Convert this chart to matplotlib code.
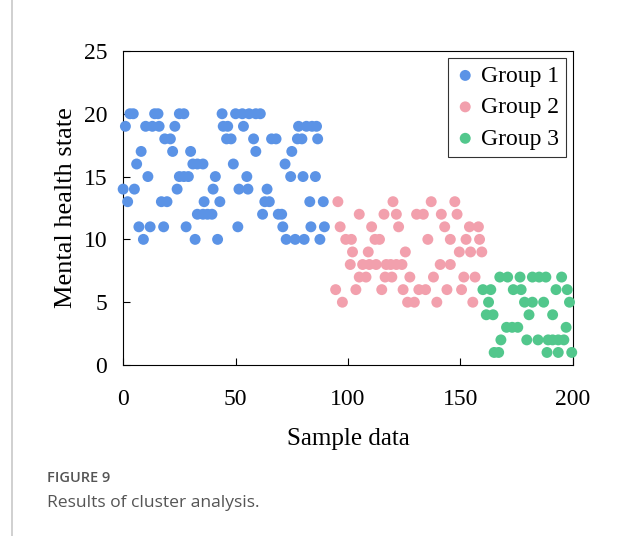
import matplotlib
matplotlib.use("Agg")
import matplotlib.pyplot as plt
from matplotlib.lines import Line2D

# cluster 1 -- (sample index, mental health score)
g1_x = [3, 4.5, 14, 15.5, 25, 27, 44, 50, 53, 56, 59, 61,
        1, 10, 13, 16, 23, 44.5, 46.5, 53.5, 78, 81.5, 84, 86,
        18.5, 21, 46, 48, 58, 66, 68, 77.5, 79.5, 86.5,
        8, 22, 30, 59, 75,
        6, 31, 33, 35.5, 49, 72,
        11, 25, 27, 29, 41, 55, 74.5, 80, 85.5,
        0, 5, 24, 40, 51.5, 55.5, 64,
        2, 17, 19.5, 36, 43, 63, 65, 83, 89,
        33, 35.5, 37.5, 39.5, 62, 69, 70.5,
        7, 12, 18, 28, 51, 71, 83.5, 89.5,
        9, 32, 42, 72.5, 76.5, 80.5, 87.5]
g1_y = [20] * 12 + [19] * 12 + [18] * 10 + [17] * 5 + [16] * 6 + [15] * 9 + \
       [14] * 7 + [13] * 9 + [12] * 7 + [11] * 8 + [10] * 7

g2_x = [95.5, 120, 137, 147.5,
        105, 116, 121.5, 130.5, 133.5, 141.5, 148.5,
        96.5, 110.5, 122.5, 143, 154, 158,
        99, 101.5, 112, 114, 135.5, 145.5, 152.5, 158.5,
        102, 109, 125.5, 149.5, 154.5, 159.5,
        101, 106.5, 109.5, 112.5, 117, 119, 121.5, 124, 141, 145.5,
        105, 108, 116.5, 119.5, 127.5, 138, 151.5, 156.5,
        94.5, 103.5, 115, 124.5, 131.5, 134.5, 144, 150.5,
        97.5, 126.5, 129.5, 139.5, 155.5]
g2_y = [13] * 4 + [12] * 7 + [11] * 6 + [10] * 8 + [9] * 6 + [8] * 10 + \
       [7] * 8 + [6] * 8 + [5] * 5

g3_x = [167.5, 171, 176.5, 182, 185, 188, 195,
        160, 163.5, 173.5, 177, 192.5, 197.5,
        162.5, 178.5, 182, 187, 198.5,
        161.5, 164.5, 180.5, 191,
        170.5, 173, 175.5, 197,
        168, 179.5, 184.5, 189, 191, 193.5, 196,
        165, 167, 188.5, 193.5, 199.5]
g3_y = [7] * 7 + [6] * 6 + [5] * 5 + [4] * 4 + [3] * 4 + [2] * 7 + [1] * 5

labels = ["Group 1", "Group 2", "Group 3"]
colors = ["#5b93e6", "#f2a0ad", "#52c78c"]

plt.rcParams["font.family"] = "Liberation Serif"
fig = plt.figure(figsize=(6.22, 5.36), dpi=100)
ax = fig.add_axes([0.198, 0.319, 0.723, 0.586])

for xs, ys, lab, c in zip([g1_x, g2_x, g3_x], [g1_y, g2_y, g3_y], labels, colors):
    ax.scatter(xs, ys, s=62, color=c, label=lab, edgecolors="none", clip_on=False, zorder=3)

ax.set_xlim(0, 200)
ax.set_ylim(0, 25)
ax.set_xticks([0, 50, 100, 150, 200])
ax.set_yticks([0, 5, 10, 15, 20, 25])
ax.tick_params(direction="in", labelsize=17, length=5)
ax.tick_params(axis="x", pad=17)
ax.tick_params(axis="y", pad=11.5)
ax.set_xlabel("Sample data", fontsize=18, labelpad=13)
ax.set_ylabel("Mental health state", fontsize=19, labelpad=5)

leg = ax.legend(loc="upper right", fontsize=17, frameon=True, fancybox=False,
                edgecolor="black", handletextpad=0.2, borderaxespad=0.3,
                labelspacing=0.42, borderpad=0.3, handlelength=0.9)
leg.get_frame().set_linewidth(0.8)

# caption + left rule of the page layout
fig.add_artist(Line2D([12 / 622, 12 / 622], [0, 1], color="#c8c8c8", lw=1.2))
fig.text(47 / 622, 1 - 478 / 536, "FIGURE 9", fontsize=10.5, color="#555555",
         family="Open Sans", fontweight="semibold", va="center")
fig.text(47 / 622, 1 - 503 / 536, "Results of cluster analysis.", fontsize=12.6,
         color="#555555", family="Open Sans", va="center")

fig.savefig("out.png", dpi=100)
